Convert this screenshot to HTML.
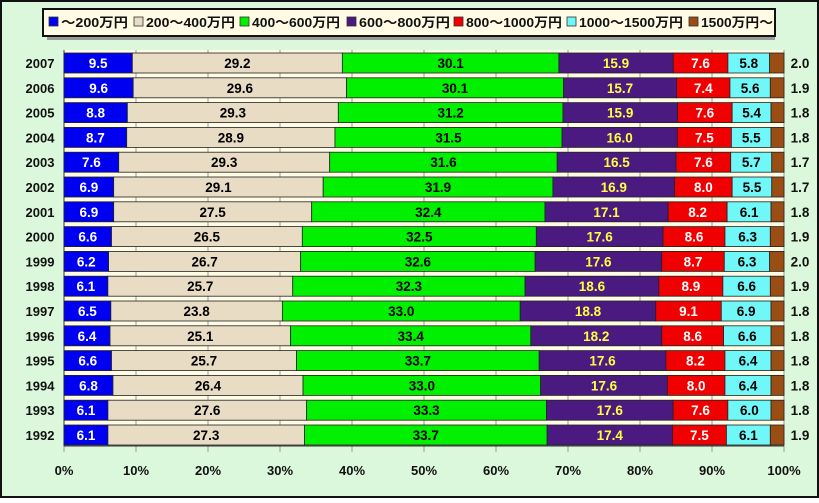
<!DOCTYPE html>
<html><head><meta charset="utf-8"><style>
body{margin:0;background:#fff}
svg text{font-family:"Liberation Sans","Noto Sans CJK JP",sans-serif;font-weight:bold}
</style></head><body>
<svg id="c" width="819" height="498" xmlns="http://www.w3.org/2000/svg">
<rect x="1" y="1" width="817" height="496" fill="#dcf8dc" stroke="#111" stroke-width="2"/>
<rect x="64" y="50" width="720" height="396" fill="#fffbe4"/>
<g id="grid"></g><g id="bars"></g><g id="labels"></g>
<g id="legend"></g>
</svg>
<script>
const years=["2007","2006","2005","2004","2003","2002","2001","2000","1999","1998","1997","1996","1995","1994","1993","1992"];
const s1=[9.5,9.6,8.8,8.7,7.6,6.9,6.9,6.6,6.2,6.1,6.5,6.4,6.6,6.8,6.1,6.1];
const s2=[29.2,29.6,29.3,28.9,29.3,29.1,27.5,26.5,26.7,25.7,23.8,25.1,25.7,26.4,27.6,27.3];
const s3=[30.1,30.1,31.2,31.5,31.6,31.9,32.4,32.5,32.6,32.3,33.0,33.4,33.7,33.0,33.3,33.7];
const s4=[15.9,15.7,15.9,16.0,16.5,16.9,17.1,17.6,17.6,18.6,18.8,18.2,17.6,17.6,17.6,17.4];
const s5=[7.6,7.4,7.6,7.5,7.6,8.0,8.2,8.6,8.7,8.9,9.1,8.6,8.2,8.0,7.6,7.5];
const s6=[5.8,5.6,5.4,5.5,5.7,5.5,6.1,6.3,6.3,6.6,6.9,6.6,6.4,6.4,6.0,6.1];
const s7=[2.0,1.9,1.8,1.8,1.7,1.7,1.8,1.9,2.0,1.9,1.8,1.8,1.8,1.8,1.8,1.9];
const seriesNames=["～200万円","200～400万円","400～600万円","600～800万円","800～1000万円","1000～1500万円","1500万円～"];
const xTicks=[0,10,20,30,40,50,60,70,80,90,100];
const series=[s1,s2,s3,s4,s5,s6,s7];
const fills=["#0000f0","#e8dcc4","#00f000","#4a1a80","#f00000","#70f8f8","#9a4e14"];
const textCols=["#fff","#000","#000","#ffff40","#fff","#000","#000"];
const ns="http://www.w3.org/2000/svg";
const X0=64,X1=784,Y0=63,DY=24.8,BH=20;
const xs=v=>X0+(X1-X0)*v/100;
const ys=i=>Y0+i*DY;
function mk(t,a,p){const e=document.createElementNS(ns,t);for(const k in a)e.setAttribute(k,a[k]);p.appendChild(e);return e;}
const G=document.getElementById('grid'),B=document.getElementById('bars'),L=document.getElementById('labels'),LG=document.getElementById('legend');
xTicks.forEach(t=>{
 const l=mk('line',{x1:xs(t),x2:xs(t),y1:50,y2:452,stroke:'#999','stroke-width':1},G);
 
 
 const tx=mk('text',{x:xs(t),y:475,'text-anchor':'middle','font-size':13,fill:'#111'},L);
 tx.textContent=t+'%';
 
 
});
mk('line',{x1:X0,x2:X1,y1:446,y2:446,stroke:'#333','stroke-width':1},G);
mk('line',{x1:X0,x2:X0,y1:50,y2:446,stroke:'#333','stroke-width':1},G);
years.forEach((y,i)=>{
 const yc=ys(i);
 const tot=series.reduce((a,s)=>a+s[i],0);
 let cum=0;
 const yl=mk('text',{x:40,y:yc+5,'text-anchor':'middle','font-size':13,fill:'#111'},L);
 yl.textContent=y;
 
 
 series.forEach((s,k)=>{
  const a=xs(cum/tot*100),b=xs((cum+s[i])/tot*100);cum+=s[i];
  const r=mk('rect',{x:a,y:yc-BH/2,width:b-a,height:BH,fill:fills[k],stroke:'#222','stroke-width':0.8},B);
  
  
  const t=mk('text',{x:k==6?800:(a+b)/2,y:yc+5,'text-anchor':'middle','font-size':13.5,fill:k==6?'#111':textCols[k]},L);
  t.textContent=s[i].toFixed(1);
  
  
 });
});
mk('rect',{x:47,y:13,width:728,height:27,fill:'#999'},LG);
mk('rect',{x:43,y:9,width:732,height:27,fill:'#fffbe4',stroke:'#111','stroke-width':2},LG);
const legendX=[49,134,240,347,454,567,689];
const legendEnd=[128,235,340,450,562,683,773];
seriesNames.forEach((n,k)=>{
 const x=legendX[k];
 const sw=mk('rect',{x:x,y:17,width:9,height:9,fill:fills[k],stroke:'#333','stroke-width':0.8},LG);
 
 
 const t=mk('text',{x:x+12,y:27,'font-size':13,fill:'#111',textLength:legendEnd[k]-x-12,lengthAdjust:'spacingAndGlyphs'},LG);
 t.textContent=n;
 
 
});
</script>
</body></html>
